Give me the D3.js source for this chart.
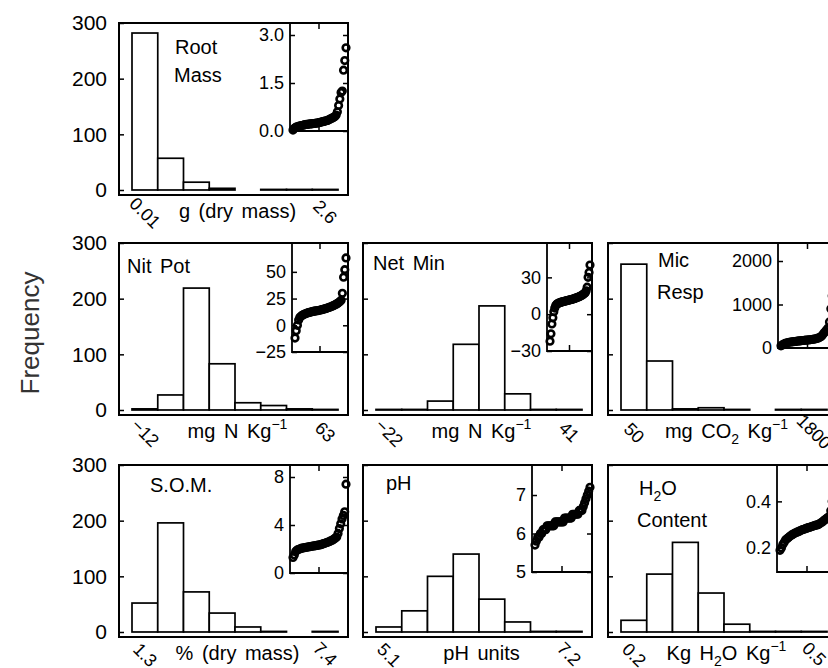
<!DOCTYPE html>
<html>
<head>
<meta charset="utf-8">
<script src="https://cdnjs.cloudflare.com/ajax/libs/d3/7.8.5/d3.min.js"></script>
<style>
body { margin: 0; background: #fff; }
svg { display: block; font-family: "Liberation Sans", Arial, sans-serif; }
</style>
</head>
<body>
<div id="chart"></div>
<script>
// histogram counts, 8 bins per variable
var rootCounts = [282, 57, 14, 3, 0, 1, 1, 1];
var nitCounts = [2, 27, 219, 83, 13, 8, 2, 1];
var netCounts = [1, 1, 16, 118, 187, 29, 1, 1];
var micCounts = [262, 88, 2, 4, 1, 0, 1, 1];
var somCounts = [52, 196, 72, 34, 9, 1, 0, 1];
var phCounts = [9, 38, 100, 140, 59, 18, 1, 1];
var h2oCounts = [21, 104, 161, 70, 14, 1, 1, 1];

// sorted values
var rootQuant = [0.03,0.08,0.11,0.13,0.14,0.15,0.16,0.17,0.18,0.19,0.20,0.205,0.21,0.215,0.22,0.225,0.23,0.235,0.24,0.245,0.25,0.26,0.27,0.28,0.29,0.30,0.31,0.32,0.33,0.35,0.37,0.39,0.41,0.43,0.45,0.5,0.6,0.8,1.0,1.2,1.25,1.9,2.2,2.6];
var nitQuant = [-12,-5,0,5,7.5,8.5,9.3,10,10.5,11,11.4,11.8,12.1,12.4,12.7,13,13.2,13.4,13.6,13.8,14,14.3,14.6,14.9,15.2,15.5,15.9,16.3,16.7,17.1,17.6,18.1,18.6,19.2,19.8,20.5,21.3,22.2,23.5,30,45,52,63];
var netQuant = [-22,-16,-8,-3,2,5,7,8,8.6,9,9.3,9.6,9.9,10.1,10.3,10.5,10.7,10.9,11.1,11.3,11.5,11.7,11.9,12.1,12.3,12.5,12.8,13.1,13.4,13.7,14,14.4,14.8,15.2,15.7,16.2,16.8,17.5,19,22,30,34,40];
var micQuant = [50,70,90,105,115,125,132,138,142,146,150,154,158,162,166,170,173,176,179,182,185,190,195,200,206,212,220,230,245,265,300,345,380,420,460,600,900,1200,1500,1800];
var somQuant = [1.3,1.5,1.8,1.9,1.95,2.0,2.05,2.08,2.1,2.12,2.14,2.16,2.18,2.2,2.22,2.24,2.26,2.28,2.3,2.32,2.34,2.36,2.4,2.44,2.48,2.52,2.56,2.6,2.65,2.7,2.76,2.84,2.92,3.0,3.3,3.7,4.1,4.5,4.8,5.1,7.4];
var phQuant = [5.7,5.8,5.9,5.9,6.0,6.0,6.1,6.1,6.1,6.2,6.2,6.2,6.2,6.2,6.2,6.3,6.3,6.3,6.3,6.3,6.3,6.3,6.4,6.4,6.4,6.4,6.4,6.4,6.5,6.5,6.5,6.5,6.5,6.6,6.6,6.6,6.7,6.8,6.9,7.0,7.1,7.2];
var h2oQuant = [0.19,0.2,0.215,0.225,0.235,0.24,0.245,0.25,0.255,0.258,0.262,0.265,0.268,0.27,0.273,0.276,0.279,0.28,0.283,0.285,0.287,0.289,0.291,0.293,0.295,0.297,0.299,0.30,0.304,0.308,0.312,0.317,0.322,0.327,0.331,0.335,0.36,0.40,0.45,0.50];

// inset tick values
var rootTicks = [0, 1.5, 3];
var nitTicks = [-25, 0, 25, 50];
var netTicks = [-30, 0, 30];
var micTicks = [0, 1000, 2000];
var somTicks = [0, 4, 8];
var phTicks = [5, 6, 7];
var h2oTicks = [0.2, 0.4];

// x range labels (min, max)
var minLabels = ["0.01", "\u221212", "\u221222", "50", "1.3", "5.1", "0.2"];
var maxLabels = ["2.6", "63", "41", "1800", "7.4", "7.2", "0.5"];

var freqTicks = [0, 100, 200, 300];

// titles and units: [text, "", "sub" or "sup"]
var titles = [
    [[["Root", ""]], [["Mass", ""]]],
    [[["Nit Pot", ""]]],
    [[["Net Min", ""]]],
    [[["Mic", ""]], [["Resp", ""]]],
    [[["S.O.M.", ""]]],
    [[["pH", ""]]],
    [[["H", ""], ["2", "sub"], ["O", ""]], [["Content", ""]]]
];
var units = [
    [["g (dry mass)", ""]],
    [["mg N Kg", ""], ["\u22121", "sup"]],
    [["mg N Kg", ""], ["\u22121", "sup"]],
    [["mg CO", ""], ["2", "sub"], [" Kg", ""], ["\u22121", "sup"]],
    [["% (dry mass)", ""]],
    [["pH units", ""]],
    [["Kg H", ""], ["2", "sub"], ["O Kg", ""], ["\u22121", "sup"]]
];

var width = 828;
var height = 668;
var colLeft = [119, 363, 608];
var rowTop = [23, 243, 465];
var pw = 229, ph = 172;

var panels = [
    {counts: rootCounts, q: rootQuant, ticks: rootTicks, fmt: ".1f", col: 0, row: 0, iw: 58, ih: 108, dom: [0, 3.375], tpos: [[56, 31], [55, 59]]},
    {counts: nitCounts, q: nitQuant, ticks: nitTicks, fmt: "d", col: 0, row: 1, iw: 56, ih: 109, dom: [-25, 77], tpos: [[8, 30]]},
    {counts: netCounts, q: netQuant, ticks: netTicks, fmt: "d", col: 1, row: 1, iw: 45, ih: 108, dom: [-30, 58], tpos: [[10, 27]]},
    {counts: micCounts, q: micQuant, ticks: micTicks, fmt: "d", col: 2, row: 1, iw: 59, ih: 105, dom: [0, 2414], tpos: [[50, 24], [49, 56]]},
    {counts: somCounts, q: somQuant, ticks: somTicks, fmt: "d", col: 0, row: 2, iw: 58, ih: 108, dom: [0, 9], tpos: [[31, 27]]},
    {counts: phCounts, q: phQuant, ticks: phTicks, fmt: "d", col: 1, row: 2, iw: 60, ih: 107, dom: [5, 7.78], tpos: [[23, 25]]},
    {counts: h2oCounts, q: h2oQuant, ticks: h2oTicks, fmt: ".1f", col: 2, row: 2, iw: 60, ih: 107, dom: [0.097, 0.556], tpos: [[31, 30], [29, 62]]}
];

var svg = d3.select("#chart")
    .append("svg")
    .attr("width", width)
    .attr("height", height);

function rich(t, segs, small) {
    var shift = 0;
    segs.forEach(function(s) {
        var target = s[1] == "sup" ? -9 : (s[1] == "sub" ? 6 : 0);
        var sp = t.append("tspan").attr("dy", target - shift).text(s[0]);
        if (s[1]) sp.attr("font-size", small);
        shift = target;
    });
}

function styleAxis(a, size) {
    a.select(".domain").remove();
    a.selectAll("line").attr("stroke", "#000").attr("stroke-width", 1.5);
    a.selectAll("text")
        .attr("fill", "#000")
        .attr("font-size", size)
        .attr("font-family", "Liberation Sans, Arial, sans-serif");
}

svg.append("text")
    .attr("transform", "translate(30,333) rotate(-90)")
    .attr("text-anchor", "middle")
    .attr("dominant-baseline", "central")
    .attr("font-size", 26)
    .attr("fill", "#333")
    .text("Frequency");

panels.forEach(function(p, k) {
    var g = svg.append("g")
        .attr("transform", "translate(" + colLeft[p.col] + "," + rowTop[p.row] + ")");

    var x = d3.scaleBand()
        .domain(d3.range(p.counts.length))
        .range([13, pw - 10])
        .paddingInner(0);
    var y = d3.scaleLinear().domain([-9, 300]).range([ph, 0]);

    var bars = p.counts.map(function(c, i) { return {c: c, i: i}; })
        .filter(function(d) { return d.c > 0; });

    g.selectAll("rect.bar")
        .data(bars)
        .enter()
        .append("rect")
        .attr("class", "bar")
        .attr("x", function(d) { return x(d.i); })
        .attr("y", function(d) { return y(d.c); })
        .attr("width", x.bandwidth())
        .attr("height", function(d) { return y(0) - y(d.c); })
        .attr("fill", "#fff")
        .attr("stroke", "#000")
        .attr("stroke-width", 1.7);

    var ya = g.append("g")
        .call(d3.axisLeft(y).tickValues(freqTicks).tickSize(-5).tickPadding(12)
            .tickFormat(p.col == 0 ? d3.format("d") : ""));
    styleAxis(ya, 21);

    // inset: sorted values against rank
    var ig = g.append("g").attr("transform", "translate(" + (pw - p.iw) + ",0)");
    var ix = d3.scaleLinear().domain([0, p.q.length - 1]).range([3, p.iw - 2]);
    var iy = d3.scaleLinear().domain(p.dom).range([p.ih, 0]);

    ig.append("path")
        .attr("d", "M0,0V" + p.ih + "H" + p.iw)
        .attr("fill", "none")
        .attr("stroke", "#000")
        .attr("stroke-width", 1.8);

    var il = ig.append("g")
        .call(d3.axisLeft(iy).tickValues(p.ticks).tickSize(-5).tickPadding(6)
            .tickFormat(d3.format(p.fmt)));
    styleAxis(il, 18);
    var ir = ig.append("g")
        .attr("transform", "translate(" + p.iw + ",0)")
        .call(d3.axisRight(iy).tickValues(p.ticks).tickSize(-5).tickFormat(""));
    styleAxis(ir, 18);

    ig.append("path")
        .attr("d", "M" + p.iw / 2 + ",0v6M" + p.iw / 2 + "," + p.ih + "v-6")
        .attr("stroke", "#000")
        .attr("stroke-width", 1.5);

    ig.selectAll("circle")
        .data(p.q)
        .enter()
        .append("circle")
        .attr("cx", function(d, i) { return ix(i); })
        .attr("cy", function(d) { return iy(d); })
        .attr("r", 3.3)
        .attr("fill", "none")
        .attr("stroke", "#000")
        .attr("stroke-width", 2.6);

    g.append("rect")
        .attr("width", pw)
        .attr("height", ph)
        .attr("fill", "none")
        .attr("stroke", "#000")
        .attr("stroke-width", 2);

    // titles
    titles[k].forEach(function(line, j) {
        var t = g.append("text")
            .attr("x", p.tpos[j][0])
            .attr("y", p.tpos[j][1])
            .attr("font-size", 20)
            .style("white-space", "pre")
            .style("word-spacing", "3px");
        rich(t, line, 14);
    });

    // x labels
    g.append("text")
        .attr("transform", "translate(26," + (ph + 18) + ") rotate(45)")
        .attr("text-anchor", "middle")
        .attr("dominant-baseline", "central")
        .attr("font-size", 18)
        .text(minLabels[k]);
    g.append("text")
        .attr("transform", "translate(" + (pw - 23) + "," + (ph + 17) + ") rotate(45)")
        .attr("text-anchor", "middle")
        .attr("dominant-baseline", "central")
        .attr("font-size", 18)
        .text(maxLabels[k]);

    var u = g.append("text")
        .attr("x", pw / 2 + 4)
        .attr("y", ph + 23)
        .attr("text-anchor", "middle")
        .attr("font-size", 20)
        .style("white-space", "pre")
        .style("word-spacing", "3px");
    rich(u, units[k], 14);
});
</script>
</body>
</html>
